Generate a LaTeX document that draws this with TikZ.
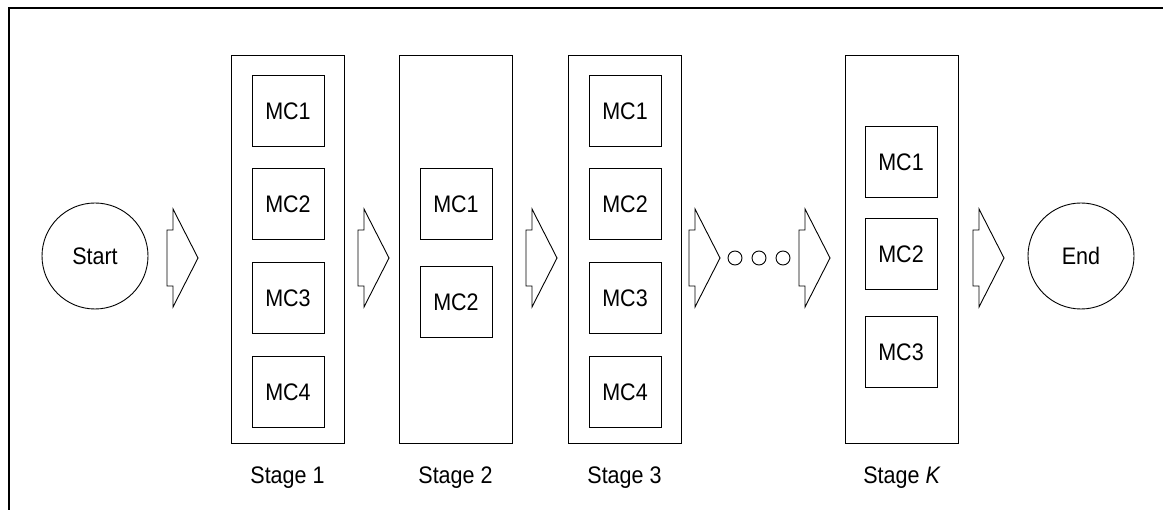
\documentclass[tikz,border=0pt]{standalone}
\usepackage{fontspec}
\setmainfont{Liberation Sans}
\newfontfamily\diafont{Liberation Sans}[FakeStretch=0.9]
\begin{document}
\begin{tikzpicture}[x=1bp,y=-1bp, line width=0.9bp,
  lblfont/.style={font=\diafont\fontsize{24}{28}\selectfont},
  stagebox/.style={draw, minimum width=113bp, minimum height=388bp, inner sep=0pt},
  mcbox/.style={draw, minimum width=72bp, minimum height=71bp, inner sep=0pt, lblfont},
  term/.style={draw, circle, minimum size=106bp, inner sep=0pt, lblfont},
  stagelabel/.style={lblfont, inner sep=0pt},
  dotnode/.style={draw, circle, minimum size=14bp, inner sep=0pt},
  pics/blockarrow/.style={code={\draw (0,-49) -- (0,-28) -- (-6,-28) -- (-6,28) -- (0,28) -- (0,49) -- (25,0) -- cycle;}}]
\useasboundingbox (0,0) rectangle (1163,510);
\draw[line width=2bp] (9,510) -- (9,8) -- (1163,8);

% terminals
\node[term] (start) at (95,256) {Start};
\node[term] (end) at (1081,256) {End};

% stages
\node[stagebox] (s1) at (287.5,249) {};
\node[stagebox] (s2) at (455.5,249) {};
\node[stagebox] (s3) at (624.5,249) {};
\node[stagebox] (sk) at (902,249) {};

% stage 1
\node[mcbox] (s1m1) at (288,111) {MC1};
\node[mcbox] (s1m2) at (288,204) {MC2};
\node[mcbox] (s1m3) at (288,298) {MC3};
\node[mcbox] (s1m4) at (288,392) {MC4};
% stage 2
\node[mcbox] (s2m1) at (456,204) {MC1};
\node[mcbox] (s2m2) at (456,302) {MC2};
% stage 3
\node[mcbox] (s3m1) at (625,111) {MC1};
\node[mcbox] (s3m2) at (625,204) {MC2};
\node[mcbox] (s3m3) at (625,298) {MC3};
\node[mcbox] (s3m4) at (625,392) {MC4};
% stage K
\node[mcbox] (skm1) at (901,162) {MC1};
\node[mcbox] (skm2) at (901,254) {MC2};
\node[mcbox] (skm3) at (901,352) {MC3};

% labels
\node[stagelabel] (l1) at (287.5,478) {Stage 1};
\node[stagelabel] (l2) at (455.5,478) {Stage 2};
\node[stagelabel] (l3) at (624.5,478) {Stage 3};
\node[stagelabel] (lk) at (902,478) {Stage \textit{K}};

% block arrows
\pic at (173,258) {blockarrow};
\pic at (364,258) {blockarrow};
\pic at (532,258) {blockarrow};
\pic at (695,258) {blockarrow};
\pic at (805,258) {blockarrow};
\pic at (979,258) {blockarrow};

% ellipsis dots
\node[dotnode] (d1) at (735,258) {};
\node[dotnode] (d2) at (759,258) {};
\node[dotnode] (d3) at (783,258) {};
\end{tikzpicture}
\end{document}
